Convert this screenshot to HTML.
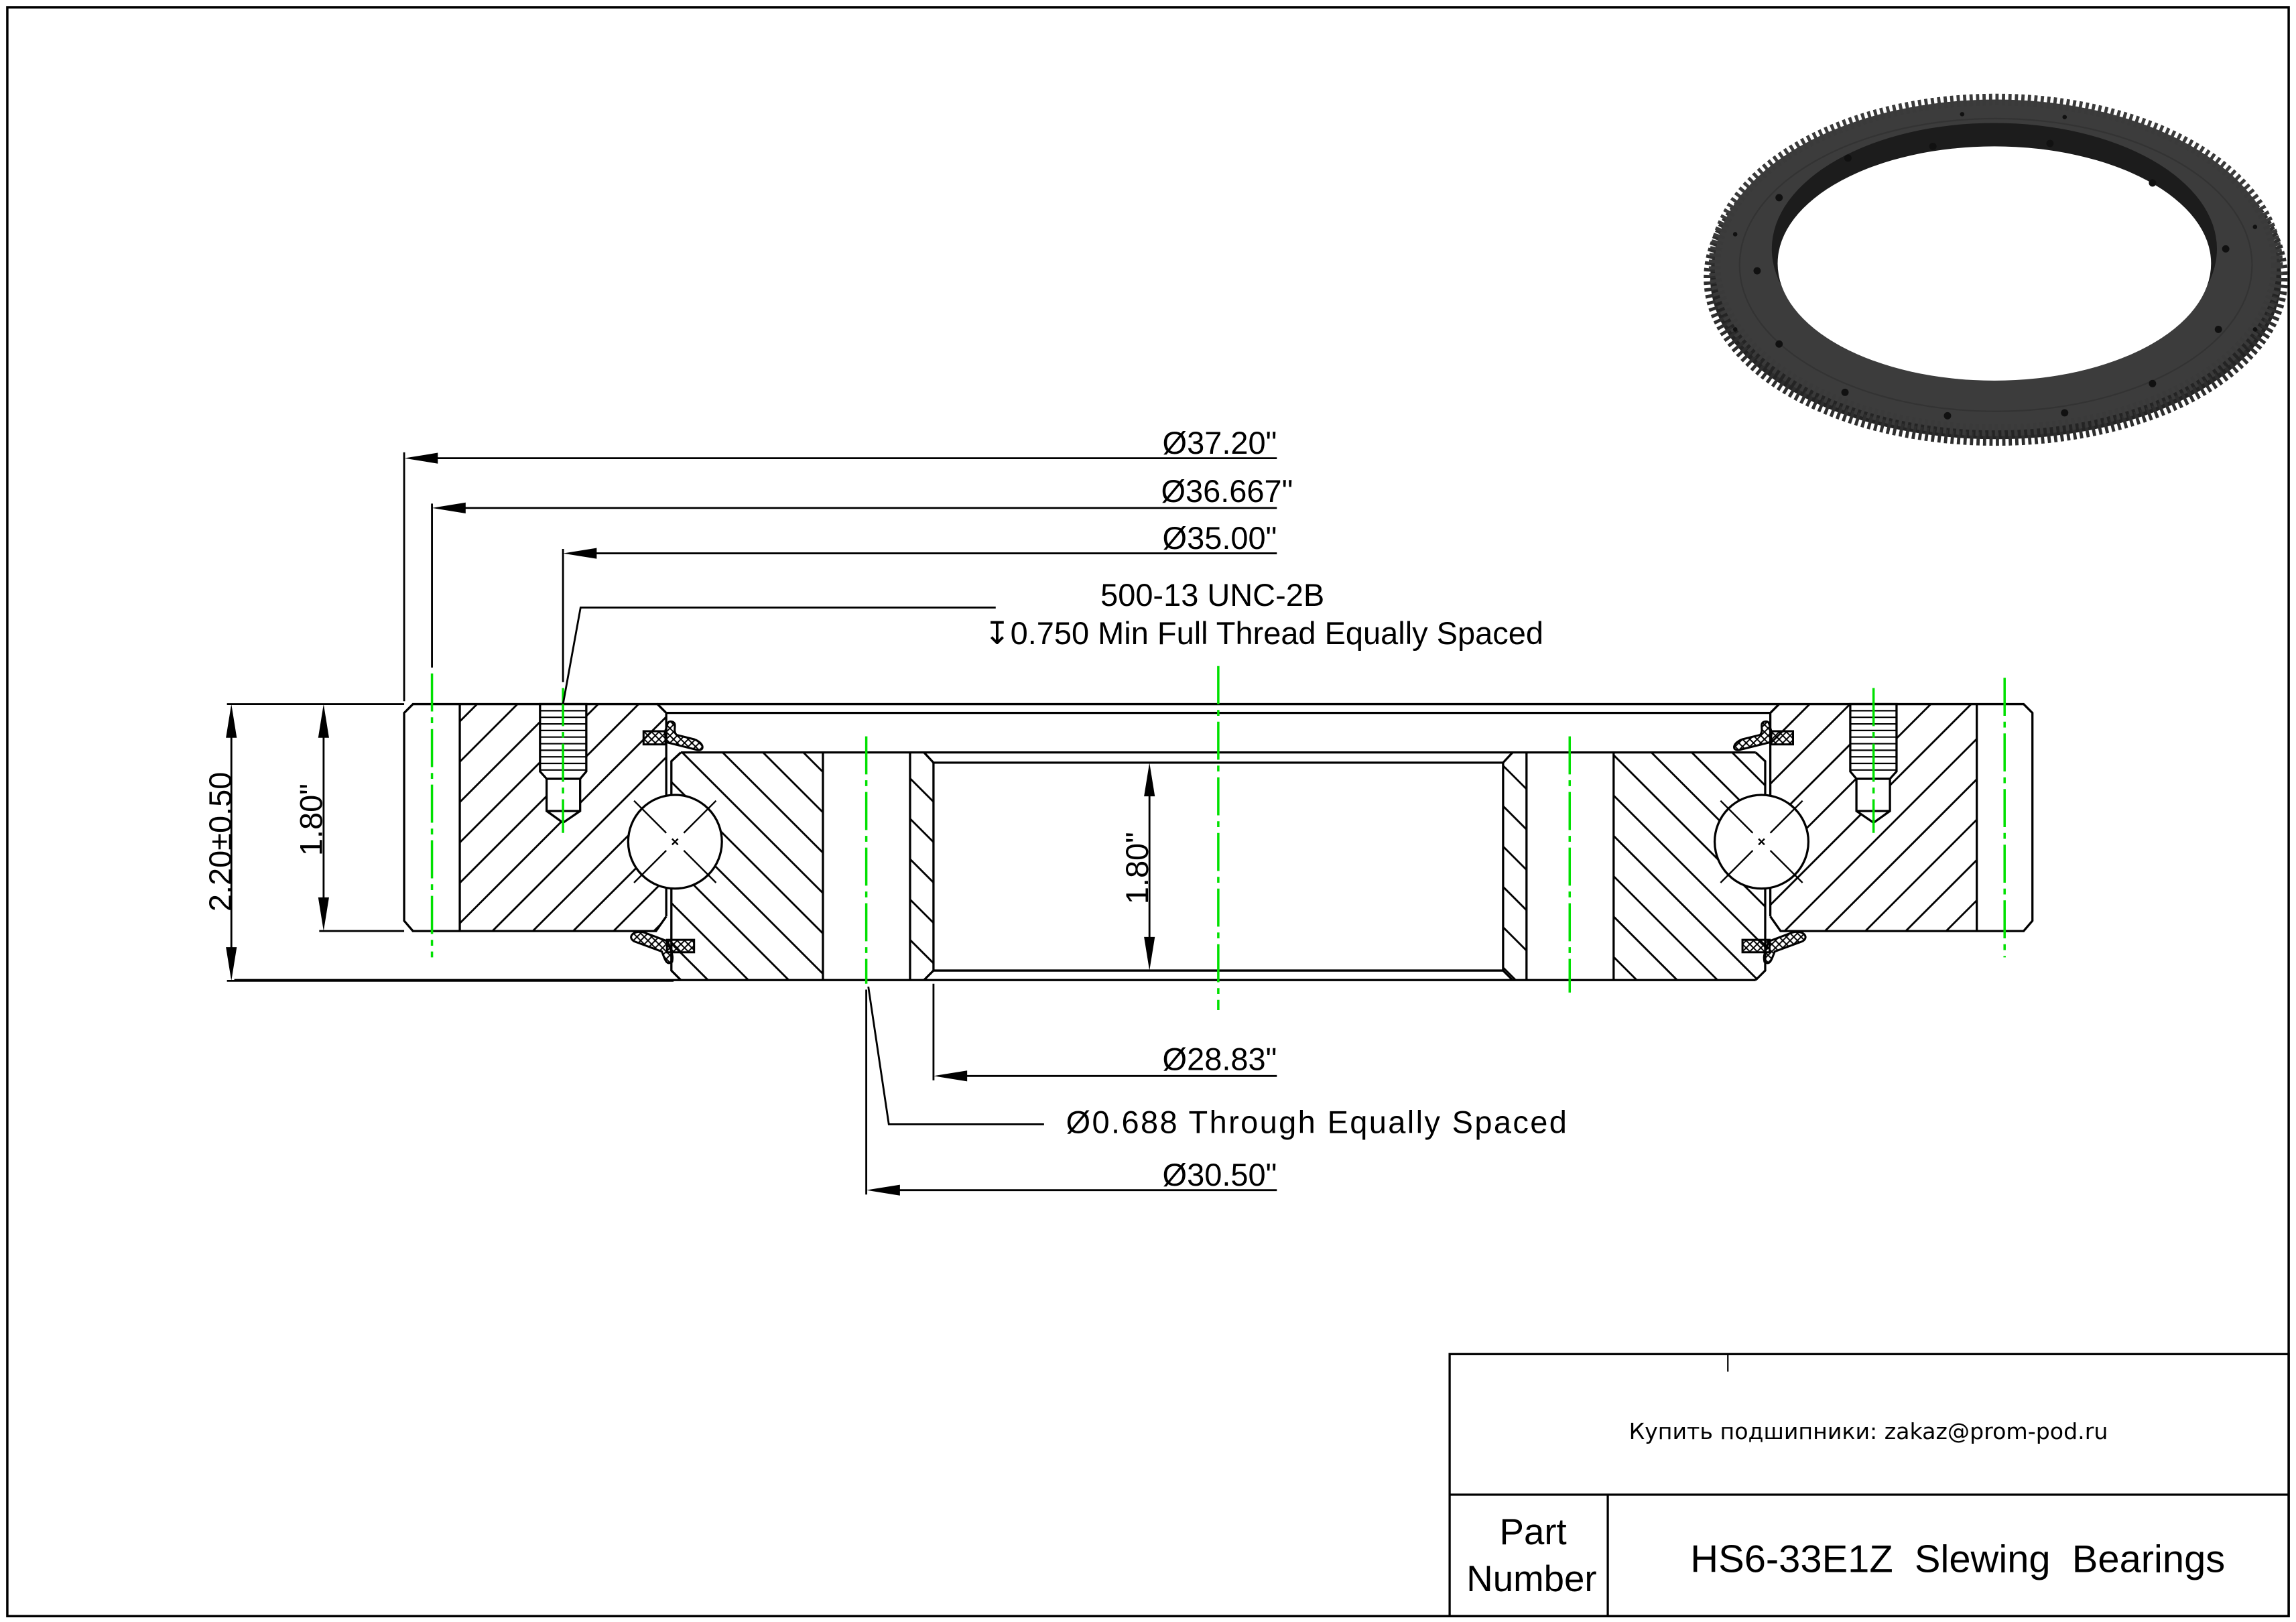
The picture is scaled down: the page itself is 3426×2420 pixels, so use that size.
<!DOCTYPE html>
<html><head><meta charset="utf-8"><style>
html,body{margin:0;padding:0;background:#fff}
svg{display:block}
text{font-family:"Liberation Sans","DejaVu Sans",sans-serif;fill:#000}
</style></head><body>
<svg width="3426" height="2420" viewBox="0 0 1568 1108" preserveAspectRatio="none" xmlns="http://www.w3.org/2000/svg">
<defs>
<pattern id="hs" patternUnits="userSpaceOnUse" width="19.5" height="19.5" patternTransform="rotate(45)">
<line x1="5" y1="0" x2="5" y2="19.5" stroke="#000" stroke-width="1.3"/></pattern>
<pattern id="hb" patternUnits="userSpaceOnUse" width="19.5" height="19.5" patternTransform="rotate(-45)">
<line x1="5" y1="0" x2="5" y2="19.5" stroke="#000" stroke-width="1.3"/></pattern>
<pattern id="xh" patternUnits="userSpaceOnUse" width="5" height="5">
<path d="M0 0L5 5M5 0L0 5" stroke="#000" stroke-width="0.9"/></pattern>
</defs>
<rect x="5" y="5" width="1558" height="1099" fill="none" stroke="#000" stroke-width="1.6"/>

<g>
<ellipse cx="1363" cy="190" rx="195" ry="110" fill="#242424" stroke="#2e2e2e" stroke-width="9" stroke-dasharray="2.2 2.2"/>
<ellipse cx="1363" cy="181" rx="192" ry="113" fill="#3c3c3c" stroke="#3a3a3a" stroke-width="8" stroke-dasharray="2.2 2.2"/>
<ellipse cx="1363" cy="181" rx="175" ry="100" fill="none" stroke="#333" stroke-width="1"/>
<ellipse cx="1362" cy="170" rx="152" ry="86" fill="#1c1c1c"/>
<ellipse cx="1362" cy="180" rx="148" ry="80" fill="#fff"/>
<g fill="#111">
<circle cx="1320" cy="100" r="2.5"/><circle cx="1400" cy="98" r="2.5"/><circle cx="1470" cy="125" r="2.5"/><circle cx="1520" cy="170" r="2.5"/><circle cx="1515" cy="225" r="2.5"/><circle cx="1470" cy="262" r="2.5"/><circle cx="1410" cy="282" r="2.5"/><circle cx="1330" cy="284" r="2.5"/><circle cx="1260" cy="268" r="2.5"/><circle cx="1215" cy="235" r="2.5"/><circle cx="1200" cy="185" r="2.5"/><circle cx="1215" cy="135" r="2.5"/><circle cx="1262" cy="108" r="2.5"/>
<circle cx="1185" cy="160" r="1.5"/><circle cx="1185" cy="225" r="1.5"/><circle cx="1540" cy="155" r="1.5"/><circle cx="1540" cy="225" r="1.5"/><circle cx="1340" cy="78" r="1.5"/><circle cx="1410" cy="80" r="1.5"/>
</g>
</g>

<g stroke="#000" stroke-width="1.5" fill="none" stroke-linejoin="miter">
<polygon points="314,481 449,481 455,487 455,626 448,636 314,636" fill="url(#hs)" stroke="none"/>
<polygon points="1209,487 1215,481 1350,481 1350,636 1216,636 1209,626" fill="url(#hs)" stroke="none"/>
<polygon points="458.5,520 465,514 562,514 562,669.5 465,669.5 458.5,663" fill="url(#hb)" stroke="none"/>
<polygon points="1102,514 1199,514 1205.5,520 1205.5,663 1199,669.5 1102,669.5" fill="url(#hb)" stroke="none"/>
<polygon points="621.5,514 631,514 637.5,521 637.5,663 631,669.5 621.5,669.5" fill="url(#hb)" stroke="none"/>
<polygon points="1026.5,521 1033,514 1042.5,514 1042.5,669.5 1033,669.5 1026.5,663" fill="url(#hb)" stroke="none"/>

<polyline points="455,487 449,481 282,481 276,487 276,629 282,636 448,636 455,626"/>
<line x1="314" y1="481" x2="314" y2="636"/>
<polyline points="1209,487 1215,481 1382,481 1388,487 1388,629 1382,636 1216,636 1209,626"/>
<line x1="1350" y1="481" x2="1350" y2="636"/>
<line x1="449" y1="481" x2="1215" y2="481"/>
<line x1="455" y1="487" x2="1209" y2="487"/>
<line x1="455" y1="487" x2="455" y2="543"/><line x1="455" y1="607" x2="455" y2="626"/>
<line x1="1209" y1="487" x2="1209" y2="543"/><line x1="1209" y1="607" x2="1209" y2="626"/>

<line x1="465" y1="514" x2="1199" y2="514"/>
<line x1="160" y1="669.5" x2="1199" y2="669.5"/>
<polyline points="458.5,543 458.5,520 465,514"/>
<polyline points="458.5,607 458.5,663 465,669.5"/>
<polyline points="1205.5,543 1205.5,520 1199,514"/>
<polyline points="1205.5,607 1205.5,663 1199,669.5"/>
<line x1="562" y1="514" x2="562" y2="669.5"/>
<line x1="621.5" y1="514" x2="621.5" y2="669.5"/>
<line x1="1102" y1="514" x2="1102" y2="669.5"/>
<line x1="1042.5" y1="514" x2="1042.5" y2="669.5"/>
<polyline points="631,514 637.5,521 1026.5,521 1033,514"/>
<polyline points="631,669.5 637.5,663 1026.5,663 1033,669.5"/>
<line x1="637.5" y1="521" x2="637.5" y2="663"/>
<line x1="1026.5" y1="521" x2="1026.5" y2="663"/>

<g fill="#fff">
<polygon points="368.8,481 400.4,481 400.4,527 396.2,532 396.2,554 384.5,562 373.3,554 373.3,532 368.8,527"/>
<polygon points="1263.6,481 1295.2,481 1295.2,527 1290.7,532 1290.7,554 1279.5,562 1267.8,554 1267.8,532 1263.6,527"/>
</g>
<line x1="373.3" y1="532" x2="396.2" y2="532"/><line x1="373.3" y1="554" x2="396.2" y2="554"/>
<line x1="1267.8" y1="532" x2="1290.7" y2="532"/><line x1="1267.8" y1="554" x2="1290.7" y2="554"/>
</g>
<g stroke="#000" stroke-width="1">
<path d="M369 485.5H400M369 490H400M369 494.5H400M369 499H400M369 503.5H400M369 508H400M369 512.5H400M369 517H400M369 521.5H400M369 526H400"/>
<path d="M1264 485.5H1295M1264 490H1295M1264 494.5H1295M1264 499H1295M1264 503.5H1295M1264 508H1295M1264 512.5H1295M1264 517H1295M1264 521.5H1295M1264 526H1295"/>
</g>

<g stroke="#000" stroke-width="1.5">
<circle cx="461" cy="575" r="32" fill="#fff"/>
<circle cx="1203" cy="575" r="32" fill="#fff"/>
<g stroke-width="1.1">
<path d="M433 547L455 569M467 581L489 603M489 547L467 569M455 581L433 603M459 573L463 577M463 573L459 577"/>
<path d="M1175 547L1197 569M1209 581L1231 603M1231 547L1209 569M1197 581L1175 603M1201 573L1205 577M1205 573L1201 577"/>
</g>
</g>

<g stroke="#000" stroke-width="1.4" fill="url(#xh)">
<rect x="439.5" y="499.5" width="15" height="9"/>
<path d="M454 500 C456 496 455 492 459 493 C463 494 459 499 462 502 L474 505 C482 508 481 514 475 512 L455 507Z"/>
<rect x="455.5" y="642" width="18.5" height="8.5"/>
<path d="M456 643 L440 637 C433 635 428 640 433 643 L452 650 C454 655 455 660 459 657 C460 652 458 650 458 648Z"/>
<rect x="1209.5" y="499.5" width="15" height="9"/>
<path d="M1210 500 C1208 496 1209 492 1205 493 C1201 494 1205 499 1202 502 L1190 505 C1182 508 1183 514 1189 512 L1209 507Z"/>
<rect x="1190" y="642" width="18.5" height="8.5"/>
<path d="M1208 643 L1224 637 C1231 635 1236 640 1231 643 L1212 650 C1210 655 1209 660 1205 657 C1204 652 1206 650 1206 648Z"/>
</g>

<g stroke="#00e000" stroke-width="1.6" stroke-dasharray="26 4 4 4" fill="none">
<line x1="295" y1="460" x2="295" y2="654"/>
<line x1="384.5" y1="470" x2="384.5" y2="569"/>
<line x1="591.6" y1="503" x2="591.6" y2="672"/>
<line x1="832" y1="455" x2="832" y2="690"/>
<line x1="1072" y1="503" x2="1072" y2="678"/>
<line x1="1279.5" y1="470" x2="1279.5" y2="569"/>
<line x1="1369" y1="463" x2="1369" y2="654"/>
</g>

<g stroke="#000" stroke-width="1.3" fill="none">
<line x1="276" y1="309" x2="276" y2="479"/>
<line x1="290" y1="313" x2="872" y2="313"/>
<line x1="295" y1="344" x2="295" y2="456"/>
<line x1="309" y1="347" x2="872" y2="347"/>
<line x1="384.5" y1="375" x2="384.5" y2="466"/>
<line x1="398" y1="378" x2="872" y2="378"/>
<polyline points="384.5,481 396.5,415 680,415"/>
<line x1="637.5" y1="672" x2="637.5" y2="738"/>
<line x1="650" y1="735" x2="872" y2="735"/>
<polyline points="593,674 607,768 713,768"/>
<line x1="591.6" y1="676" x2="591.6" y2="816"/>
<line x1="605" y1="813" x2="872" y2="813"/>
<line x1="155" y1="481" x2="276" y2="481"/>
<line x1="155" y1="670" x2="460" y2="670"/>
<line x1="218" y1="636" x2="276" y2="636"/>
<line x1="158" y1="495" x2="158" y2="656"/>
<line x1="221" y1="495" x2="221" y2="622"/>
<line x1="785" y1="535" x2="785" y2="649"/>
</g>
<g fill="#000">
<polygon points="276,313 299,309.3 299,316.7"/>
<polygon points="295,347 318,343.3 318,350.7"/>
<polygon points="384.5,378 407.5,374.3 407.5,381.7"/>
<polygon points="637.5,735 660.5,731.3 660.5,738.7"/>
<polygon points="591.6,813 614.6,809.3 614.6,816.7"/>
<polygon points="158,481 154.3,504 161.7,504"/>
<polygon points="158,670 154.3,647 161.7,647"/>
<polygon points="221,481 217.3,504 224.7,504"/>
<polygon points="221,636 217.3,613 224.7,613"/>
<polygon points="785,521 781.3,544 788.7,544"/>
<polygon points="785,663 781.3,640 788.7,640"/>
</g>
<g font-size="21.5">
<text x="872" y="310" text-anchor="end">Ø37.20"</text>
<text x="883" y="343" text-anchor="end">Ø36.667"</text>
<text x="872" y="375" text-anchor="end">Ø35.00"</text>
<text x="828" y="414" text-anchor="middle">500-13 UNC-2B</text>
<text x="863" y="440" text-anchor="middle">↧0.750 Min Full Thread Equally Spaced</text>
<text x="872" y="731" text-anchor="end">Ø28.83"</text>
<text x="728" y="774" textLength="342" lengthAdjust="spacing">Ø0.688 Through Equally Spaced</text>
<text x="872" y="810" text-anchor="end">Ø30.50"</text>
<text transform="translate(158,575) rotate(-90)" text-anchor="middle">2.20±0.50</text>
<text transform="translate(220,560) rotate(-90)" text-anchor="middle">1.80"</text>
<text transform="translate(784,593) rotate(-90)" text-anchor="middle">1.80"</text>
</g>

<g stroke="#000" stroke-width="1.5" fill="none">
<rect x="990" y="925" width="573" height="179"/>
<line x1="990" y1="1021" x2="1563" y2="1021"/>
<line x1="1098" y1="1021" x2="1098" y2="1104"/>
<line x1="1180" y1="925" x2="1180" y2="937" stroke-width="1"/>
</g>
<text x="1276" y="983" font-size="15.2" text-anchor="middle" style="font-family:'DejaVu Sans',sans-serif">Купить подшипники: zakaz@prom-pod.ru</text>
<text x="1047" y="1055" font-size="25" text-anchor="middle">Part</text>
<text x="1046" y="1087" font-size="25" text-anchor="middle">Number</text>
<text x="1337" y="1074" font-size="26.5" text-anchor="middle" style="white-space:pre">HS6-33E1Z  Slewing  Bearings</text>
</svg>
</body></html>
